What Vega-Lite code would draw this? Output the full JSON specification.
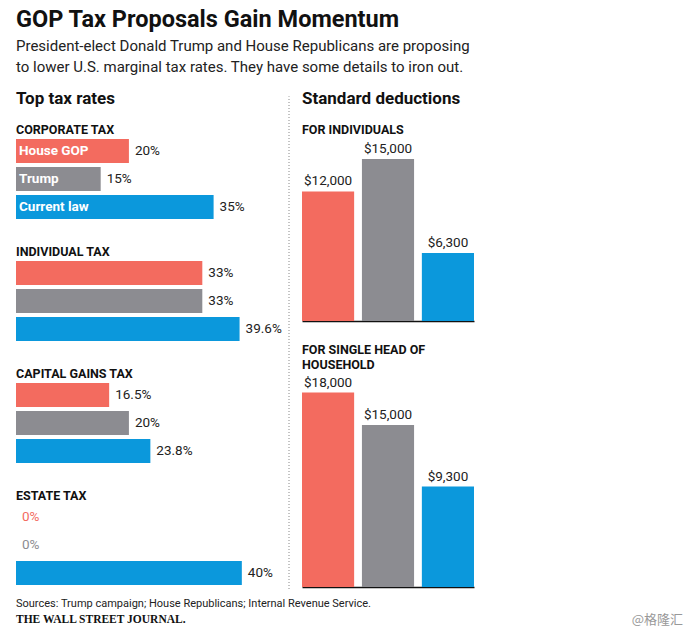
{
  "$schema": "https://vega.github.io/schema/vega-lite/v6.json",
  "padding": {"left": 16, "top": 8, "right": 5, "bottom": 0},
  "background": "white",
  "config": {
    "view": {"stroke": null},
    "font": "Roboto, sans-serif",
    "concat": {"spacing": 0}
  },
  "title": {
    "text": "GOP Tax Proposals Gain Momentum",
    "subtitle": ["President-elect Donald Trump and House Republicans are proposing", "to lower U.S. marginal tax rates. They have some details to iron out."],
    "anchor": "start",
    "font": "Roboto, sans-serif",
    "fontSize": 23.5,
    "fontWeight": "bold",
    "color": "#111",
    "subtitleFont": "Roboto, sans-serif",
    "subtitleFontSize": 15,
    "subtitleColor": "#222",
    "subtitleLineHeight": 21,
    "subtitlePadding": 7,
    "offset": 15
  },
  "datasets": {
    "rates": [
      {"group": "CORPORATE TAX", "series": "House GOP", "value": 0.20},
      {"group": "CORPORATE TAX", "series": "Trump", "value": 0.15},
      {"group": "CORPORATE TAX", "series": "Current law", "value": 0.35},
      {"group": "INDIVIDUAL TAX", "series": "House GOP", "value": 0.33},
      {"group": "INDIVIDUAL TAX", "series": "Trump", "value": 0.33},
      {"group": "INDIVIDUAL TAX", "series": "Current law", "value": 0.396},
      {"group": "CAPITAL GAINS TAX", "series": "House GOP", "value": 0.165},
      {"group": "CAPITAL GAINS TAX", "series": "Trump", "value": 0.20},
      {"group": "CAPITAL GAINS TAX", "series": "Current law", "value": 0.238},
      {"group": "ESTATE TAX", "series": "House GOP", "value": 0},
      {"group": "ESTATE TAX", "series": "Trump", "value": 0},
      {"group": "ESTATE TAX", "series": "Current law", "value": 0.40}
    ],
    "deductions": [
      {"group": "FOR INDIVIDUALS", "series": "House GOP", "value": 12000},
      {"group": "FOR INDIVIDUALS", "series": "Trump", "value": 15000},
      {"group": "FOR INDIVIDUALS", "series": "Current law", "value": 6300},
      {"group": "FOR SINGLE HEAD OF HOUSEHOLD", "series": "House GOP", "value": 18000},
      {"group": "FOR SINGLE HEAD OF HOUSEHOLD", "series": "Trump", "value": 15000},
      {"group": "FOR SINGLE HEAD OF HOUSEHOLD", "series": "Current law", "value": 9300}
    ],
    "footer": [
      {"line": 1, "pos": 0, "kind": "src", "text": "Sources: Trump campaign; House Republicans; Internal Revenue Service."},
      {"line": 2, "pos": 0, "kind": "wsj", "text": "THE WALL STREET JOURNAL."},
      {"line": 2, "pos": 1, "kind": "wm", "text": "@格隆汇"}
    ]
  },
  "vconcat": [
    {
      "hconcat": [
        {
          "title": {"text": "Top tax rates", "anchor": "start", "fontSize": 17, "fontWeight": "bold", "color": "#111", "offset": 16},
          "spacing": 24,
          "vconcat": [
            {
              "title": {"text": "CORPORATE TAX", "anchor": "start", "fontSize": 12.5, "fontWeight": "bold", "color": "#111", "offset": 1},
              "width": 271, "height": 84,
              "data": {"name": "rates"},
              "transform": [{"filter": "datum.group === 'CORPORATE TAX'"}],
              "encoding": {
                "y": {"field": "series", "type": "nominal", "sort": ["House GOP", "Trump", "Current law"], "axis": null, "scale": {"paddingInner": 0.142857, "paddingOuter": 0.0714}},
                "x": {"field": "value", "type": "quantitative", "scale": {"domain": [0, 0.48]}, "axis": null}
              },
              "layer": [
                {"mark": {"type": "bar"}, "encoding": {"color": {"field": "series", "type": "nominal", "scale": {"domain": ["House GOP", "Trump", "Current law"], "range": ["#f36b5f", "#8c8c91", "#0b98dc"]}, "legend": null}}},
                {"mark": {"type": "text", "align": "left", "dx": 6, "fontSize": 13.5, "color": "#222"}, "encoding": {"text": {"field": "value", "type": "quantitative", "format": ".1~%"}}},
                {"mark": {"type": "text", "align": "left", "dx": 3, "fontSize": 13.5, "fontWeight": "bold", "color": "white"}, "encoding": {"x": {"datum": 0, "type": "quantitative"}, "text": {"field": "series"}}}
              ]
            },
            {
              "title": {"text": "INDIVIDUAL TAX", "anchor": "start", "fontSize": 12.5, "fontWeight": "bold", "color": "#111", "offset": 1},
              "width": 271, "height": 84,
              "data": {"name": "rates"},
              "transform": [{"filter": "datum.group === 'INDIVIDUAL TAX'"}],
              "encoding": {
                "y": {"field": "series", "type": "nominal", "sort": ["House GOP", "Trump", "Current law"], "axis": null, "scale": {"paddingInner": 0.142857, "paddingOuter": 0.0714}},
                "x": {"field": "value", "type": "quantitative", "scale": {"domain": [0, 0.48]}, "axis": null}
              },
              "layer": [
                {"mark": {"type": "bar"}, "encoding": {"color": {"field": "series", "type": "nominal", "scale": {"domain": ["House GOP", "Trump", "Current law"], "range": ["#f36b5f", "#8c8c91", "#0b98dc"]}, "legend": null}}},
                {"mark": {"type": "text", "align": "left", "dx": 6, "fontSize": 13.5, "color": "#222"}, "encoding": {"text": {"field": "value", "type": "quantitative", "format": ".1~%"}}}
              ]
            },
            {
              "title": {"text": "CAPITAL GAINS TAX", "anchor": "start", "fontSize": 12.5, "fontWeight": "bold", "color": "#111", "offset": 1},
              "width": 271, "height": 84,
              "data": {"name": "rates"},
              "transform": [{"filter": "datum.group === 'CAPITAL GAINS TAX'"}],
              "encoding": {
                "y": {"field": "series", "type": "nominal", "sort": ["House GOP", "Trump", "Current law"], "axis": null, "scale": {"paddingInner": 0.142857, "paddingOuter": 0.0714}},
                "x": {"field": "value", "type": "quantitative", "scale": {"domain": [0, 0.48]}, "axis": null}
              },
              "layer": [
                {"mark": {"type": "bar"}, "encoding": {"color": {"field": "series", "type": "nominal", "scale": {"domain": ["House GOP", "Trump", "Current law"], "range": ["#f36b5f", "#8c8c91", "#0b98dc"]}, "legend": null}}},
                {"mark": {"type": "text", "align": "left", "dx": 6, "fontSize": 13.5, "color": "#222"}, "encoding": {"text": {"field": "value", "type": "quantitative", "format": ".1~%"}}}
              ]
            },
            {
              "title": {"text": "ESTATE TAX", "anchor": "start", "fontSize": 12.5, "fontWeight": "bold", "color": "#111", "offset": 1},
              "width": 271, "height": 84,
              "data": {"name": "rates"},
              "transform": [{"filter": "datum.group === 'ESTATE TAX'"}],
              "encoding": {
                "y": {"field": "series", "type": "nominal", "sort": ["House GOP", "Trump", "Current law"], "axis": null, "scale": {"paddingInner": 0.142857, "paddingOuter": 0.0714}},
                "x": {"field": "value", "type": "quantitative", "scale": {"domain": [0, 0.48]}, "axis": null}
              },
              "layer": [
                {"mark": {"type": "bar"}, "encoding": {"color": {"field": "series", "type": "nominal", "scale": {"domain": ["House GOP", "Trump", "Current law"], "range": ["#f36b5f", "#8c8c91", "#0b98dc"]}, "legend": null}}},
                {"mark": {"type": "text", "align": "left", "dx": 6, "fontSize": 13.5}, "encoding": {
                  "text": {"field": "value", "type": "quantitative", "format": ".1~%"},
                  "color": {"condition": {"test": "datum.value === 0", "field": "series", "type": "nominal", "legend": null}, "value": "#222"}
                }}
              ]
            }
          ]
        },
        {
          "width": 15, "height": 452,
          "data": {"values": [{"sep": 0}]},
          "mark": {"type": "rule", "strokeDash": [1, 2], "color": "#888", "strokeWidth": 1},
          "encoding": {
            "x": {"field": "sep", "type": "quantitative", "scale": {"domain": [-1, 6.5]}, "axis": null},
            "y": {"datum": 0, "type": "quantitative", "scale": {"domain": [0, 1], "nice": false}, "axis": null},
            "y2": {"datum": 1.09}
          }
        },
        {
          "title": {"text": "Standard deductions", "anchor": "start", "fontSize": 17, "fontWeight": "bold", "color": "#111", "offset": 16},
          "spacing": 22,
          "vconcat": [
            {
              "title": {"text": "FOR INDIVIDUALS", "anchor": "start", "fontSize": 12.5, "fontWeight": "bold", "color": "#111", "offset": 1},
              "width": 172, "height": 184,
              "data": {"name": "deductions"},
              "transform": [{"filter": "datum.group === 'FOR INDIVIDUALS'"}],
              "encoding": {
                "x": {"field": "series", "type": "nominal", "sort": ["House GOP", "Trump", "Current law"], "scale": {"paddingInner": 0.13, "paddingOuter": 0}, "axis": {"labels": false, "ticks": false, "title": null, "domainColor": "#111", "domainWidth": 1.5}},
                "y": {"field": "value", "type": "quantitative", "scale": {"domain": [0, 17035]}, "axis": null}
              },
              "layer": [
                {"mark": {"type": "bar"}, "encoding": {"color": {"field": "series", "type": "nominal", "scale": {"domain": ["House GOP", "Trump", "Current law"], "range": ["#f36b5f", "#8c8c91", "#0b98dc"]}, "legend": null}}},
                {"mark": {"type": "text", "baseline": "bottom", "dy": -3, "fontSize": 13.5, "color": "#222"}, "encoding": {"text": {"field": "value", "type": "quantitative", "format": "$,.0f"}}}
              ]
            },
            {
              "title": {"text": ["FOR SINGLE HEAD OF", "HOUSEHOLD"], "anchor": "start", "fontSize": 12.5, "fontWeight": "bold", "color": "#111", "offset": 4, "lineHeight": 15},
              "width": 172, "height": 212,
              "data": {"name": "deductions"},
              "transform": [{"filter": "datum.group === 'FOR SINGLE HEAD OF HOUSEHOLD'"}],
              "encoding": {
                "x": {"field": "series", "type": "nominal", "sort": ["House GOP", "Trump", "Current law"], "scale": {"paddingInner": 0.13, "paddingOuter": 0}, "axis": {"labels": false, "ticks": false, "title": null, "domainColor": "#111", "domainWidth": 1.5}},
                "y": {"field": "value", "type": "quantitative", "scale": {"domain": [0, 19630]}, "axis": null}
              },
              "layer": [
                {"mark": {"type": "bar"}, "encoding": {"color": {"field": "series", "type": "nominal", "scale": {"domain": ["House GOP", "Trump", "Current law"], "range": ["#f36b5f", "#8c8c91", "#0b98dc"]}, "legend": null}}},
                {"mark": {"type": "text", "baseline": "bottom", "dy": -3, "fontSize": 13.5, "color": "#222"}, "encoding": {"text": {"field": "value", "type": "quantitative", "format": "$,.0f"}}}
              ]
            }
          ]
        }
      ]
    },
    {
      "width": 667, "height": 44,
      "data": {"name": "footer"},
      "encoding": {
        "y": {"field": "line", "type": "ordinal", "scale": {"type": "point", "padding": 0.875}, "axis": null},
        "x": {"field": "pos", "type": "quantitative", "scale": {"domain": [0, 1]}, "axis": null},
        "text": {"field": "text"}
      },
      "layer": [
        {"transform": [{"filter": "datum.kind === 'src'"}], "mark": {"type": "text", "align": "left", "fontSize": 11, "color": "#222"}},
        {"transform": [{"filter": "datum.kind === 'wsj'"}], "mark": {"type": "text", "align": "left", "fontSize": 11.5, "fontWeight": "bold", "font": "Liberation Serif", "color": "#111"}},
        {"transform": [{"filter": "datum.kind === 'wm'"}], "mark": {"type": "text", "align": "right", "fontSize": 13, "font": "Noto Sans CJK SC", "color": "#999"}}
      ]
    }
  ]
}
